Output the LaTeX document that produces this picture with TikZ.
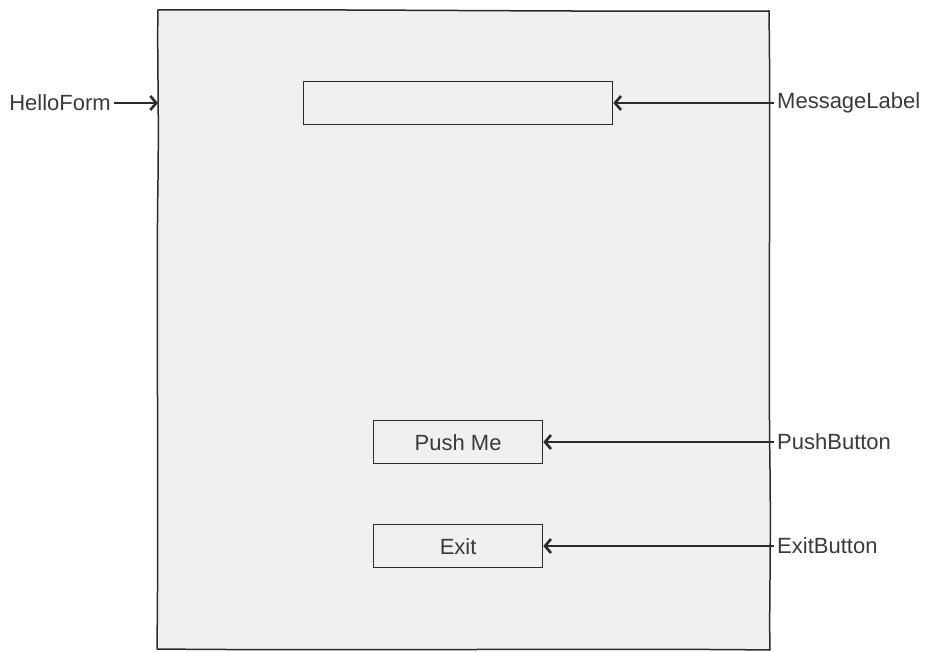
\documentclass[tikz,border=0pt]{standalone}
\usepackage{fontspec}
\setmainfont{Liberation Sans}
\usetikzlibrary{arrows.meta}
\definecolor{formfill}{HTML}{F0F0F0}
\definecolor{ink}{HTML}{2B2B2B}
\definecolor{txt}{HTML}{3A3A3A}
\begin{document}
\begin{tikzpicture}[x=1pt,y=-1pt,
  lbl/.style={font=\fontsize{22}{25}\selectfont, text=txt, inner sep=0pt},
  ctrl/.style={draw=ink, line width=1.3pt, fill=formfill, minimum height=43pt, inner sep=0pt},
  pointer/.style={draw=ink, line width=2.4pt, -{Straight Barb[length=6pt,width=14pt,line width=2.6pt]}}]
\useasboundingbox (0,0) rectangle (927,652);
% form
\node[fill=formfill, minimum width=611pt, minimum height=640pt, inner sep=0pt, anchor=north west] (form) at (158,10) {};
\draw[ink, line width=1.5pt, line join=round]
  (158,10) .. controls (350,9) and (560,12) .. (769,11)
  .. controls (771,150) and (768,330) .. (770,470)
  .. controls (771,560) and (769,610) .. (770,650)
  .. controls (600,648) and (360,651) .. (157,649)
  .. controls (159,480) and (156,300) .. (158,180)
  .. controls (159,100) and (157,50) .. (158,10) -- cycle;
% controls
\node[ctrl, minimum width=309pt, anchor=north west] (msg) at (303,81) {};
\node[ctrl, minimum width=169pt, anchor=north west] (push) at (373,420) {};
\node[lbl] at (push.center) {Push Me};
\node[ctrl, minimum width=169pt, anchor=north west] (exit) at (373,524) {};
\node[lbl] at (exit.center) {Exit};
% labels
\node[lbl, anchor=east] (hf) at (111,103) {HelloForm};
\node[lbl, anchor=west] (ml) at (777,103) {MessageLabel};
\node[lbl, anchor=west] (pb) at (777,442) {PushButton};
\node[lbl, anchor=west] (eb) at (777,546) {ExitButton};
% arrows
\coordinate (formedge) at (158,103);
\draw[pointer] ([xshift=3pt]hf.east) -- (formedge);
\draw[pointer] ([xshift=-3pt]ml.west) -- (msg.east |- ml.west);
\draw[pointer] ([xshift=-3pt]pb.west) -- (push.east |- pb.west);
\draw[pointer] ([xshift=-3pt]eb.west) -- (exit.east |- eb.west);
\end{tikzpicture}
\end{document}
